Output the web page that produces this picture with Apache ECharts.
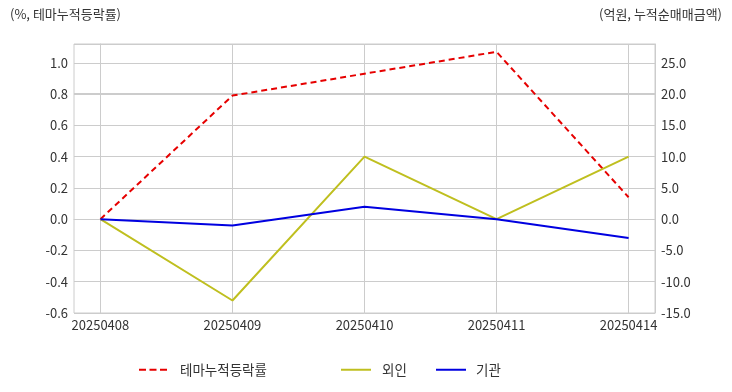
<!DOCTYPE html>
<html><head><meta charset="utf-8">
<script src="https://cdn.jsdelivr.net/npm/echarts@6/dist/echarts.min.js"></script>
<style>html,body{margin:0;padding:0;background:#fff}#c{width:732px;height:392px}</style>
</head><body><div id="c"></div>
<script>
const categories = ['20250408','20250409','20250410','20250411','20250414'];
const themeRate = [0.0, 0.79, 0.93, 1.07, 0.14];
const foreign = [0, -13, 10, 0, 10];
const institution = [0, -1, 2, 0, -3];
const leftAxisName = '(%, 테마누적등락률)';
const rightAxisName = '(억원, 누적순매매금액)';
const seriesNames = ['테마누적등락률', '외인', '기관'];

const FONT = '"Noto Sans CJK KR", "Noto Sans", sans-serif';
const RED = '#e60000', OLIVE = '#bfbf1f', BLUE = '#0000e0';
const idx = categories.map((_, i) => i);
const chart = echarts.init(document.getElementById('c'));
const pairs = arr => arr.map((v, i) => [i, v]);
const legendText = pad => ({ fontSize: 13.5, color: '#333', fontFamily: FONT, padding: [0, 0, 0, pad] });
chart.setOption({
  animation: false,
  textStyle: { fontFamily: FONT },
  grid: { left: 74, right: 77, top: 44, bottom: 79, show: true, borderColor: '#cccccc', borderWidth: 1, backgroundColor: 'transparent' },
  graphic: [
    { type: 'text', left: 10, top: 8, style: { text: leftAxisName, font: '13px ' + FONT, fill: '#333' } },
    { type: 'text', right: 10, top: 8, style: { text: rightAxisName, font: '13px ' + FONT, fill: '#333' } }
  ],
  legend: [
    { data: [{ name: seriesNames[0], icon: 'path://M0,0h7v2h-7z M10.5,0h7v2h-7z M21,0h7v2h-7z', itemStyle: { color: RED } }],
      left: 134, top: 358, itemWidth: 28, itemHeight: 2, textStyle: legendText(8) },
    { data: [{ name: seriesNames[1], icon: 'rect', itemStyle: { color: OLIVE } }],
      left: 336, top: 358, itemWidth: 30, itemHeight: 2, textStyle: legendText(6) },
    { data: [{ name: seriesNames[2], icon: 'rect', itemStyle: { color: BLUE } }],
      left: 431, top: 358, itemWidth: 30, itemHeight: 2, textStyle: legendText(5) }
  ],
  xAxis: {
    type: 'value', min: -0.2, max: 4.2,
    axisLine: { show: true, lineStyle: { color: '#cccccc' } },
    axisTick: { show: false, customValues: idx },
    axisLabel: { customValues: idx, color: '#333', fontSize: 13, margin: 6, formatter: v => categories[Math.round(v)] || '' },
    splitLine: { show: true, customValues: idx, lineStyle: { color: '#cccccc' } }
  },
  yAxis: [
    { type: 'value', min: -0.6, max: 1.12, interval: 0.2, position: 'left',
      axisLine: { show: true, lineStyle: { color: '#cccccc' } }, axisTick: { show: false },
      axisLabel: { color: '#333', fontSize: 13, margin: 6, showMaxLabel: false, formatter: v => v.toFixed(1) },
      splitLine: { show: true, lineStyle: { color: '#cccccc' } } },
    { type: 'value', min: -15, max: 28, interval: 5, position: 'right',
      axisLine: { show: true, lineStyle: { color: '#cccccc' } }, axisTick: { show: false },
      axisLabel: { color: '#333', fontSize: 13, margin: 6, showMaxLabel: false, formatter: v => v.toFixed(1) },
      splitLine: { show: false } }
  ],
  series: [
    { name: seriesNames[0], type: 'line', yAxisIndex: 0, data: pairs(themeRate), symbol: 'none',
      lineStyle: { color: RED, width: 2, type: [6, 4] }, itemStyle: { color: RED }, z: 3,
      markLine: { silent: true, symbol: 'none', label: { show: false }, lineStyle: { color: '#cccccc', width: 2, type: 'solid' }, data: [{ yAxis: 0.8 }], z: 1 } },
    { name: seriesNames[1], type: 'line', yAxisIndex: 1, data: pairs(foreign), symbol: 'none',
      lineStyle: { color: OLIVE, width: 2 }, itemStyle: { color: OLIVE } },
    { name: seriesNames[2], type: 'line', yAxisIndex: 1, data: pairs(institution), symbol: 'none',
      lineStyle: { color: BLUE, width: 2 }, itemStyle: { color: BLUE } }
  ]
});
</script></body></html>
